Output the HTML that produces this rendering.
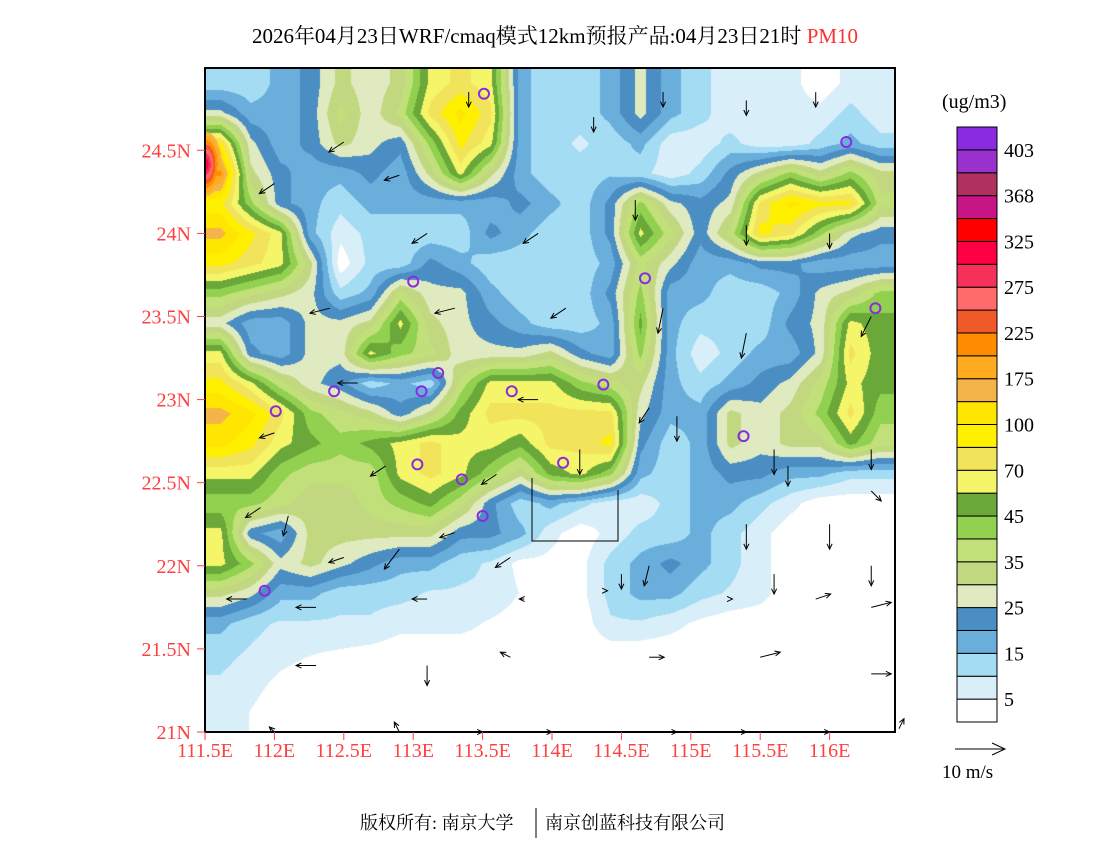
<!DOCTYPE html>
<html><head><meta charset="utf-8">
<style>
html,body{margin:0;padding:0;background:#fff;}
#wrap{position:relative;width:1100px;height:850px;overflow:hidden;font-family:"Liberation Serif","Noto Serif CJK SC",serif;}
#map{position:absolute;left:205px;top:68px;}
svg{position:absolute;left:0;top:0;}
</style></head>
<body>
<div id="wrap">
<canvas id="map" width="690" height="664"></canvas>
<svg id="ov" width="1100" height="850"></svg>
</div>
<script>
// ---- data ----
const levelBounds = ["5","15","25","35","45","70","100","175","225","275","325","368","403"];
const levelColors = ["#ffffff","#d8eef8","#a4dcf4","#6aaedc","#4a8ec4","#e0eac0","#c2d880","#c2e07a","#92d050","#6aa83a","#f5f56a","#f2e45a","#fff000","#ffe600","#f5b44a","#ffab20","#ff8c00","#f05a28","#ff6a6a","#f5305a","#ff0044","#ff0000","#c71585","#b03060","#9932cc","#8a2be2"];
const latTicks = [24.5,24,23.5,23,22.5,22,21.5,21];
const lonTicks = [111.5,112,112.5,113,113.5,114,114.5,115,115.5,116];
// field in colour-level units, rows north->south, 23 cols
const row00=[2,2,3,4,6,5,6,10,11,10,3,2,2,3,5,3,2,1,1,1,0,1,1];
const row01=[5,3,3,4,7,5,7,11,13,11,3,2,2,3,5,3,2,1,1,1,1,2,1];
const row02=[12,5,3,4,6,5,4,8,12,10,3,2,1.5,2,3,1,1,2,1,1,2,3,2];
const row03=[16,6,4,3,3,4,3,6,10,6,3,2,2,2.5,2,1,2,4,6,8,6,8,6];
const row04=[12,8,4,3,2,3,3,3,3,3,4,3,2,4,8,5,4,5,11,13,12,12,7];
const row05=[14,12,10,3,1,2,2,2,2,4,3,2,2,4,10,7,4,7,12,11,8,5,4];
const row06=[12,11,10,6,0,2,2,4,3,2,2,2,2,3,7,5,3,3,4,4,3,3,3];
const row07=[8,7,6,5,2,3,7,5,5,3,2,2,2,4,8,3,3,2,2,3,5,6,8];
const row08=[5,3,3,5,5,6,10,6,5,4,3,2,2,3,9,3,2,2,2,4,5,10,9];
const row09=[10,4,3,5,5,10,8,7,5,5,5,6,4,3,8,3,1,2,3,3,5,11,9];
const row10=[12,10,7,5,4,2,3,2,7,10,10,10,8,7,6,3,2,3,4,5,7,10,9];
const row11=[14,13,11,8,7,6,4,6,9,11,11,11,11,11,5,3,3,6,5,6,8,11,8];
const row12=[13,12,10,9,8,9,10,11,10,10,9,11,11,12,4,2,3,6,5,6,6,9,7];
const row13=[10,10,8,7,7,7,10,11,10,8,6,9,10,8,3,2,3,4,4,3,3,2,2];
const row14=[8,8,7,6,6,7,8,9,7,4,2,3,2,1,1,2,3,3,2,1,0,0,0];
const row15=[10,4,3,6,6,6,6,6,4,4,3,1,0,1,2,2,3,2,1,0,0,0,0];
const row16=[10,8,5,6,5,4,3,3,2,1.5,0.3,0.3,0.3,2,3,4,3,2,1,0,0,0,0];
const row17=[6,5,3,3,2,2,2,1.5,1.5,1.5,0.6,0.3,0.3,2,3,3,2,1.5,1,0,0,0,0];
const row18=[3,2,1.5,1.5,1.5,1.5,1,1,1,0.5,0,0,0,1.5,1.5,1,0.4,0,0,0,0,0,0];
const row19=[2,1.5,1,0.7,0.5,0.3,0,0,0,0,0,0,0,0,0,0,0,0,0,0,0,0,0];
const row20=[1.5,1,0.4,0,0,0,0,0,0,0,0,0,0,0,0,0,0,0,0,0,0,0,0];
const row21=[1.5,0.6,0,0,0,0,0,0,0,0,0,0,0,0,0,0,0,0,0,0,0,0,0];
const field=[row00,row01,row02,row03,row04,row05,row06,row07,row08,row09,row10,row11,row12,row13,row14,row15,row16,row17,row18,row19,row20,row21];
// hotspot (lon, lat, peak level)
const hotLon=[111.5], hotLat=[24.42], hotPeak=[21];
// stations (lon, lat)
const stLon=[113.51,116.12,113.0,114.67,116.33,112.43,112.01,113.06,113.18,113.71,114.37,115.38,113.03,113.35,114.08,113.5,111.93];
const stLat=[24.84,24.55,23.71,23.73,23.55,23.05,22.93,23.05,23.16,23.05,23.09,22.78,22.61,22.52,22.62,22.3,21.85];
// wind (lon, lat, u, v)  m/s
const wLon=[112.5,113.4,114.3,114.8,115.4,115.9,112.0,112.9,113.1,113.9,114.6,115.4,116.0,112.4,113.3,114.1,114.8,115.4,116.3,112.6,113.9,114.7,115.6,116.3,112.0,112.8,113.6,114.2,114.9,115.7,116.3,111.9,112.5,113.3,114.5,115.4,116.0,112.1,112.9,113.7,114.7,115.6,116.3,111.8,112.3,113.1,113.8,114.4,115.3,115.9,116.3,112.3,113.1,113.7,114.7,115.5,116.3,112.0,112.9,113.5,114.0,114.9,115.4,116.0,116.5];
const wLat=[24.55,24.85,24.7,24.85,24.8,24.85,24.3,24.35,24.0,24.0,24.2,24.05,24.0,23.55,23.55,23.55,23.55,23.4,23.5,23.1,23.0,22.95,22.7,22.7,22.8,22.6,22.55,22.7,22.9,22.6,22.45,22.35,22.05,22.2,21.95,22.25,22.25,22.3,22.1,22.05,22.0,21.95,22.0,21.8,21.75,21.8,21.8,21.85,21.8,21.8,21.75,21.4,21.4,21.45,21.45,21.45,21.35,21.0,21.0,21.0,21.0,21.0,21.0,21.0,21.02];
const wU=[-3,0,0,0,0,0,-3,-3,-3,-3,0,0,0,-4,-4,-3,-1,-1,-2,-4,-4,-2,0,0,-3,-3,-3,0,0,0,2,-3,-3,-3,0,0,0,-1,-3,-3,-1,0,0,-4,-4,-3,-1,0,0,3,4,-4,0,-2,3,4,4,-1,-1,0,0,0,0,0,1];
const wV=[-2,-3,-3,-3,-3,-3,-2,-1,-2,-2,-4,-4,-3,-1,-1,-2,-5,-5,-4,0,0,-3,-5,-4,-1,-2,-2,-5,-5,-4,-2,-2,-1,-1,-3,-5,-5,-4,-4,-2,-4,-4,-4,0,0,0,0,0,0,1,1,0,-4,1,0,1,0,1,2,0,0,0,0,0,2];

// ---- axes ----
const X0=205,Y0=68,W=690,H=664;
const lonToX=l=>X0+(l-111.5)*138.8;
const latToY=a=>732-(a-21)*166.2;
const NS='http://www.w3.org/2000/svg';
const ov=document.getElementById('ov');
function mk(tag,attrs,parent){const e=document.createElementNS(NS,tag);for(const k in attrs)e.setAttribute(k,attrs[k]);(parent||ov).appendChild(e);return e;}

// ---- field raster ----
const cv=document.getElementById('map');const ctx=cv.getContext('2d');
const img=ctx.createImageData(W,H);
const rgb=levelColors.map(c=>[parseInt(c.slice(1,3),16),parseInt(c.slice(3,5),16),parseInt(c.slice(5,7),16)]);
const nR=field.length,nC=field[0].length,cell=30;
for(let py=0;py<H;py++){
  let fy=(py-15)/cell; fy=Math.max(0,Math.min(nR-1,fy));
  const r0=Math.floor(fy),r1=Math.min(nR-1,r0+1),ty=fy-r0;
  for(let px=0;px<W;px++){
    let fx=(px-15)/cell; fx=Math.max(0,Math.min(nC-1,fx));
    const c0=Math.floor(fx),c1=Math.min(nC-1,c0+1),tx=fx-c0;
    let v=(field[r0][c0]*(1-tx)+field[r0][c1]*tx)*(1-ty)+(field[r1][c0]*(1-tx)+field[r1][c1]*tx)*ty;
    for(let h=0;h<hotLon.length;h++){
      const dx=(px+X0-lonToX(hotLon[h]))/9,dy=(py+Y0-latToY(hotLat[h]))/18;
      const d=Math.sqrt(dx*dx+dy*dy);
      if(d<1.8)v=Math.max(v,hotPeak[h]-d*4);
    }
    const k=Math.max(0,Math.min(rgb.length-1,Math.round(v-0.15)));
    const i=(py*W+px)*4;img.data[i]=rgb[k][0];img.data[i+1]=rgb[k][1];img.data[i+2]=rgb[k][2];img.data[i+3]=255;
  }
}
ctx.putImageData(img,0,0);

// Hong Kong box
const hk=mk('polyline',{points:'532,478 532,541 618,541 618,490',fill:'none',stroke:'#000','stroke-width':1});



// stations
for(let i=0;i<stLon.length;i++){
  const c=mk('circle',{cx:lonToX(stLon[i]),cy:latToY(stLat[i]),r:5,fill:'none',stroke:'#8a2be2','stroke-width':2});
  
  
}
// wind arrows
const SC=5;
for(let i=0;i<wLon.length;i++){
  const x=lonToX(wLon[i]),y=latToY(wLat[i]);
  const x2=x+wU[i]*SC,y2=y-wV[i]*SC;
  const ang=Math.atan2(y2-y,x2-x);
  const g=mk('g',{stroke:'#000','stroke-width':1,fill:'none'});
  
  
  mk('line',{x1:x,y1:y,x2:x2,y2:y2},g);
  const a1=ang+2.7,a2=ang-2.7;
  mk('polyline',{points:`${x2+6*Math.cos(a1)},${y2+6*Math.sin(a1)} ${x2},${y2} ${x2+6*Math.cos(a2)},${y2+6*Math.sin(a2)}`},g);
}
// frame
const fr=mk('rect',{x:X0,y:Y0,width:W,height:H,fill:'none',stroke:'#000','stroke-width':2});


// ticks
latTicks.forEach(a=>{
  const y=latToY(a);
  mk('line',{x1:197,y1:y,x2:205,y2:y,stroke:'#ff4040','stroke-width':1});
  const t=mk('text',{x:191,y:y+7,'text-anchor':'end','font-size':20,fill:'#ff4040','font-family':'Liberation Serif, serif'});
  t.textContent=a+'N';
  
  
});
lonTicks.forEach(l=>{
  const x=lonToX(l);
  mk('line',{x1:x,y1:732,x2:x,y2:740,stroke:'#ff4040','stroke-width':1});
  const t=mk('text',{x:x,y:757,'text-anchor':'middle','font-size':20,fill:'#ff4040','font-family':'Liberation Serif, serif'});
  t.textContent=l+'E';
  
  
});
// colorbar
const cbTop=127,cbBot=722,segH=(cbBot-cbTop)/levelColors.length;
for(let k=0;k<levelColors.length;k++){
  const y=cbBot-(k+1)*segH;
  const r=mk('rect',{x:957,y:y,width:40,height:segH,fill:levelColors[k],stroke:'#000','stroke-width':1});
  
  
}
levelBounds.forEach((b,j)=>{
  const y=cbBot-(2*j+1)*segH;
  const t=mk('text',{x:1004,y:y+7,'font-size':20,fill:'#000','font-family':'Liberation Serif, serif'});
  t.textContent=b;
  
  
});
const ut=mk('text',{x:942,y:108,'font-size':20,fill:'#000','font-family':'Liberation Serif, serif'});ut.textContent='(ug/m3)';


// wind legend
const wl=mk('g',{stroke:'#000','stroke-width':1,fill:'none'});


mk('line',{x1:955,y1:749,x2:1005,y2:749},wl);
mk('polyline',{points:'992,743 1005,749 992,755'},wl);
const wt=mk('text',{x:942,y:778,'font-size':19,fill:'#000','font-family':'Liberation Serif, serif'});wt.textContent='10 m/s';


// title
const tt=mk('text',{x:555,y:43,'text-anchor':'middle','font-size':21,fill:'#000','font-family':'Liberation Serif, Noto Serif CJK SC, serif'});


tt.appendChild(document.createTextNode('2026年04月23日WRF/cmaq模式12km预报产品:04月23日21时 '));
const ts=mk('tspan',{fill:'#ff3030'},tt);ts.textContent='PM10';
// copyright
const cp=mk('text',{x:360,y:829,'font-size':18,fill:'#000','font-family':'Liberation Serif, Noto Serif CJK SC, serif'});
cp.textContent='版权所有: 南京大学';


mk('line',{x1:536,y1:808,x2:536,y2:838,stroke:'#000','stroke-width':1});
const cp2=mk('text',{x:545,y:829,'font-size':18,fill:'#000','font-family':'Liberation Serif, Noto Serif CJK SC, serif'});
cp2.textContent='南京创蓝科技有限公司';


</script>
</body></html>
